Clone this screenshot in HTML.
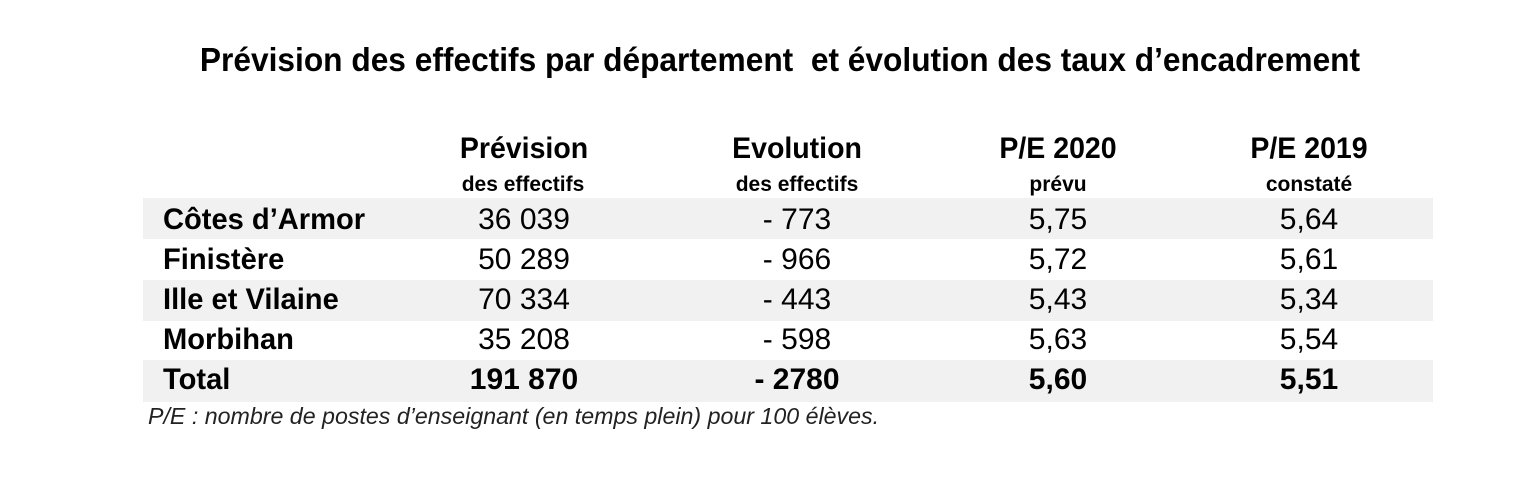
<!DOCTYPE html>
<html><head><meta charset="utf-8"><style>
body{margin:0;width:1536px;height:490px;background:#fff;position:relative;overflow:hidden;font-family:"Liberation Sans",Arial,sans-serif;color:#000}
.t{position:absolute;white-space:nowrap;line-height:1}
.c{transform:translateX(-50%)}
.band{position:absolute;left:143px;width:1290px;background:#f1f1f1}
.b{font-weight:bold}
.l{transform-origin:left;transform:scaleX(0.97)}
</style></head><body>
<div class="t b" style="left:780px;top:43px;font-size:33px;transform:translateX(-50%) scaleX(0.96)">Prévision des effectifs par département&nbsp; et évolution des taux d’encadrement</div>
<div class="band" style="top:198px;height:41px"></div>
<div class="band" style="top:280px;height:41px"></div>
<div class="band" style="top:360px;height:42px"></div>

<div class="t c b" style="left:524px;top:134px;font-size:30px;transform:translateX(-50%) scaleX(0.95)">Prévision</div>
<div class="t c b" style="left:523px;top:174px;font-size:21px">des effectifs</div>
<div class="t c b" style="left:797px;top:134px;font-size:30px;transform:translateX(-50%) scaleX(0.95)">Evolution</div>
<div class="t c b" style="left:797px;top:174px;font-size:21px">des effectifs</div>
<div class="t c b" style="left:1058px;top:134px;font-size:30px;transform:translateX(-50%) scaleX(0.95)">P/E 2020</div>
<div class="t c b" style="left:1058px;top:174px;font-size:21px">prévu</div>
<div class="t c b" style="left:1309px;top:134px;font-size:30px;transform:translateX(-50%) scaleX(0.95)">P/E 2019</div>
<div class="t c b" style="left:1309px;top:174px;font-size:21px">constaté</div>

<div style="position:absolute;top:205px;left:0;width:1536px;font-size:30px">
<div class="t b l" style="left:163px;top:0">Côtes d’Armor</div>
<div class="t c" style="left:524px;top:0">36 039</div>
<div class="t c" style="left:797px;top:0">- 773</div>
<div class="t c" style="left:1058px;top:0">5,75</div>
<div class="t c" style="left:1309px;top:0">5,64</div>

<div class="t b l" style="left:163px;top:40px">Finistère</div>
<div class="t c" style="left:524px;top:40px">50 289</div>
<div class="t c" style="left:797px;top:40px">- 966</div>
<div class="t c" style="left:1058px;top:40px">5,72</div>
<div class="t c" style="left:1309px;top:40px">5,61</div>

<div class="t b l" style="left:163px;top:80px">Ille et Vilaine</div>
<div class="t c" style="left:524px;top:80px">70 334</div>
<div class="t c" style="left:797px;top:80px">- 443</div>
<div class="t c" style="left:1058px;top:80px">5,43</div>
<div class="t c" style="left:1309px;top:80px">5,34</div>

<div class="t b l" style="left:163px;top:120px">Morbihan</div>
<div class="t c" style="left:524px;top:120px">35 208</div>
<div class="t c" style="left:797px;top:120px">- 598</div>
<div class="t c" style="left:1058px;top:120px">5,63</div>
<div class="t c" style="left:1309px;top:120px">5,54</div>

<div class="t b l" style="left:163px;top:160px">Total</div>
<div class="t c b" style="left:524px;top:160px">191 870</div>
<div class="t c b" style="left:797px;top:160px">- 2780</div>
<div class="t c b" style="left:1058px;top:160px">5,60</div>
<div class="t c b" style="left:1309px;top:160px">5,51</div>
</div>

<div class="t" style="left:148px;top:405px;font-size:23.5px;font-style:italic;color:#222;transform-origin:left;transform:scaleX(0.987)">P/E : nombre de postes d’enseignant (en temps plein) pour 100 élèves.</div>
</body></html>
